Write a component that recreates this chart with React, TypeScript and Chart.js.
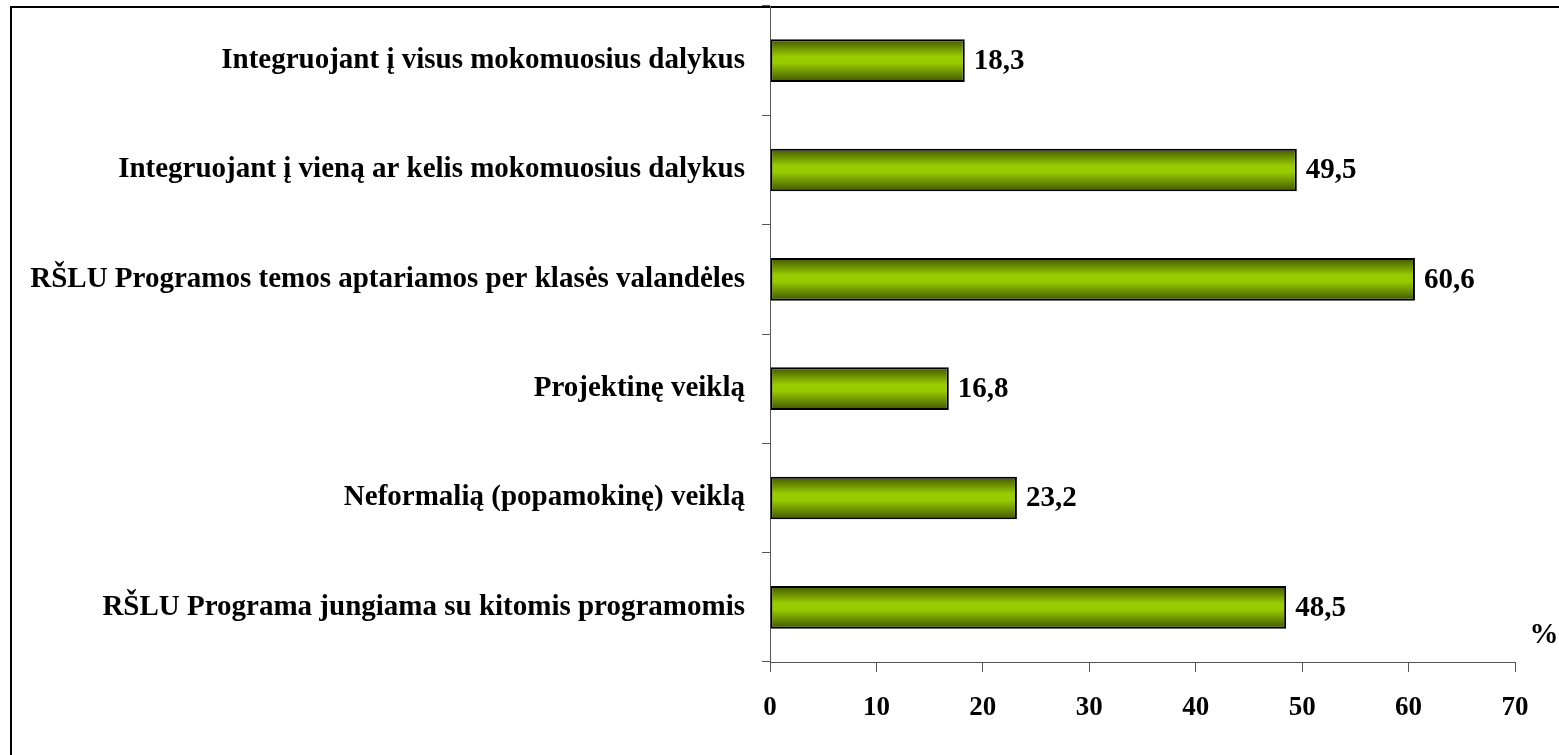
import React, { useEffect, useRef } from "react";
import { Chart, registerables } from "chart.js";

Chart.register(...registerables);

const categories = [
  "Integruojant į visus mokomuosius dalykus",
  "Integruojant į vieną ar kelis mokomuosius dalykus",
  "RŠLU Programos temos aptariamos per klasės valandėles",
  "Projektinę veiklą",
  "Neformalią (popamokinę) veiklą",
  "RŠLU Programa jungiama su kitomis programomis",
];
const values = [18.3, 49.5, 60.6, 16.8, 23.2, 48.5];
const xTicks = [0, 10, 20, 30, 40, 50, 60, 70];
const unitLabel = "%";

const FONT = "'Liberation Serif', 'Times New Roman', serif";
const BAR_PCT = 0.39;

export default function App() {
  const ref = useRef<HTMLCanvasElement | null>(null);

  useEffect(() => {
    document.body.style.margin = "0";
    const canvas = ref.current!;
    const framePlugin = {
      id: "frame",
      beforeDraw(chart: any) {
        const c = chart.ctx;
        c.save();
        c.fillStyle = "#ffffff";
        c.fillRect(0, 0, chart.width, chart.height);
        c.strokeStyle = "#000000";
        c.lineWidth = 2;
        c.strokeRect(11, 7, chart.width + 50, chart.height + 50);
        c.restore();
      },
      afterDatasetsDraw(chart: any) {
        const c = chart.ctx;
        const meta = chart.getDatasetMeta(0);
        c.save();
        c.fillStyle = "#000";
        c.font = `bold 29px ${FONT}`;
        c.textAlign = "left";
        c.textBaseline = "middle";
        meta.data.forEach((bar: any, i: number) => {
          const v = values[i].toFixed(1).replace(".", ",");
          c.fillText(v, bar.x + 9, bar.y + 1);
        });
        c.textAlign = "center";
        c.fillText(unitLabel, 1544, 636);
        c.restore();
      },
    };

    const gradientFor = (ctx: any) => {
      const chart = ctx.chart;
      const y = chart.scales && chart.scales.y;
      if (!y || !chart.chartArea) return "#99cc00";
      const center = y.getPixelForValue(ctx.dataIndex);
      const half = ((y.bottom - y.top) / categories.length) * BAR_PCT / 2;
      const g = chart.ctx.createLinearGradient(0, center - half, 0, center + half);
      g.addColorStop(0, "#3f5400");
      g.addColorStop(0.4, "#99cc00");
      g.addColorStop(0.55, "#99cc00");
      g.addColorStop(1, "#3f5400");
      return g;
    };

    const chart = new Chart(canvas, {
      type: "bar",
      data: {
        labels: categories,
        datasets: [
          {
            data: values,
            backgroundColor: gradientFor,
            borderColor: "#000000",
            borderWidth: 2,
            borderSkipped: false,
            barPercentage: BAR_PCT,
            categoryPercentage: 1,
          },
        ],
      },
      options: {
        indexAxis: "y",
        animation: false,
        responsive: false,
        devicePixelRatio: 1,
        layout: { padding: { left: 0, right: 44, top: 6, bottom: 0 } },
        plugins: {
          legend: { display: false },
          tooltip: { enabled: false },
        },
        scales: {
          x: {
            type: "linear",
            min: 0,
            max: 70,
            afterBuildTicks(scale: any) {
              scale.ticks = xTicks.map((v) => ({ value: v }));
            },
            afterFit(scale: any) {
              scale.height = 93;
              scale.paddingLeft = 0;
              scale.paddingRight = 0;
            },
            grid: {
              drawOnChartArea: false,
              drawTicks: true,
              tickLength: 10,
              color: "#555555",
              tickColor: "#555555",
            },
            border: { color: "#555555", width: 1 },
            ticks: {
              color: "#000",
              padding: 20,
              maxRotation: 0,
              autoSkip: false,
              font: { family: FONT, size: 27, weight: "bold" },
            },
          },
          y: {
            type: "category",
            afterFit(scale: any) {
              scale.width = 770;
              scale.paddingTop = 0;
              scale.paddingBottom = 0;
            },
            grid: {
              drawOnChartArea: false,
              drawTicks: true,
              tickLength: 8,
              offset: true,
              color: "#555555",
              tickColor: "#555555",
            },
            border: { color: "#555555", width: 1 },
            ticks: {
              color: "#000",
              padding: 17,
              autoSkip: false,
              font: { family: FONT, size: 29, weight: "bold" },
            },
          },
        },
      },
      plugins: [framePlugin],
    } as any);
    return () => chart.destroy();
  }, []);

  return (
    <div style={{ position: "absolute", left: 0, top: 0, width: 1559, height: 755 }}>
      <canvas ref={ref} width={1559} height={755} style={{ display: "block" }} />
    </div>
  );
}
